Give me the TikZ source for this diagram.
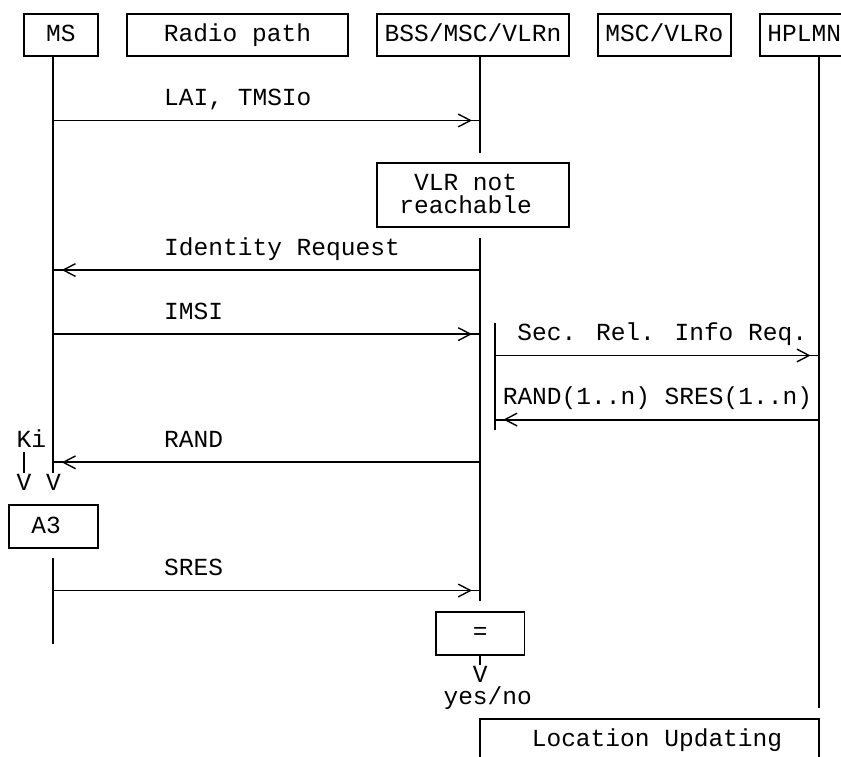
\documentclass[tikz,border=0pt]{standalone}
\usepackage{fontspec}
\newfontfamily\diafont{Liberation Mono}
\usetikzlibrary{arrows.meta}
\newcommand{\diasize}{\fontsize{14.23pt}{12.39pt}\selectfont}
\newcommand{\rowstrut}{\rule[-0.077cm]{0pt}{0.427cm}}

\tikzset{
  lane/.style={line width=1.1pt},
  txt/.style={inner sep=0pt, font=\diafont\diasize, text height=0.35cm, text depth=0.077cm},
  twoline/.style={inner sep=0pt, font=\diafont\diasize, align=center},
  box/.style={txt, draw, line width=1.1pt, minimum height=0.8708cm},
  msg/.style={lane, -{Straight Barb[length=0.25cm, width=0.26cm, sep=0pt, line width=0.8pt]Rectangle[length=0.17cm, width=0pt 1, line width=0pt, sep=0pt]}},
}

\begin{document}
\begin{tikzpicture}[x=0.3cm, y=-0.4354cm]
\clip (-1.63,-1.639) rectangle (55.5,33.75);

% header boxes
\node[box, minimum width=1.5cm] (ms) at (2.5,0) {MS};
\node[box, minimum width=4.5cm] (radio) at (14.5,0) {Radio path};
\node[box, minimum width=3.9cm] (bss) at (30.5,0) {BSS/MSC/VLRn};
\node[box, minimum width=2.7cm] (vlro) at (43.5,0) {MSC/VLRo};
\node[box, minimum width=1.8cm] (hplmn) at (53,0) {HPLMN};

% lifeline ends
\coordinate (ms0) at (2,1);
\coordinate (ms2) at (2,24.5);
\coordinate (ms3) at (2,28.5);
\coordinate (bss0) at (31,1);
\coordinate (bss1) at (31,5.5);
\coordinate (bss2) at (31,9.5);
\coordinate (bss3) at (31,26.5);
\coordinate (sec0) at (32,13.5);
\coordinate (sec1) at (32,18.5);
\coordinate (hpl0) at (54,1);
\coordinate (hpl1) at (54,31.5);

% message ends
\coordinate (msA) at (2,4);   \coordinate (bssA) at (31,4);
\coordinate (msB) at (2,11);  \coordinate (bssB) at (31,11);
\coordinate (msC) at (2,14);  \coordinate (bssC) at (31,14);
\coordinate (secD) at (32,15); \coordinate (hplD) at (54,15);
\coordinate (secE) at (32,18); \coordinate (hplE) at (54,18);
\coordinate (msF) at (2,20);  \coordinate (bssF) at (31,20);
\coordinate (msG) at (2,26);  \coordinate (bssG) at (31,26);

% inner boxes
\node[box, minimum width=3.9cm, minimum height=1.3062cm] (vlr) at (30.5,7.5) {};
\node[twoline] (vlrtext) at ([xshift=-0.15cm]vlr.center) {\rowstrut VLR not\\\rowstrut reachable};
\node[box, minimum width=1.8cm] (a3) at (2,23) {};
\node[txt] (a3text) at ([xshift=-0.15cm]a3.center) {A3};
\node[box, minimum width=1.8cm] (eq) at (31,28) {=};
\node[box, minimum width=6.9cm] (locupd) at (42.5,33) {};
\node[txt] (loctext) at ([xshift=0.15cm]locupd.center) {Location Updating};

% small texts
\node[txt] (ki) at (0.5,19) {Ki};
\node[txt] (kiv) at (0,21) {V};
\node[txt] (msv) at (2,21) {V};
\node[txt] (eqv) at (31,30) {V};
\node[txt] (yesno) at (31.5,31) {yes/no};

% lifelines
\draw[lane] (ms0) -- (msv.north);
\draw[lane] (ms2) -- (ms3);
\draw[lane] (ki.south -| kiv.north) -- (kiv.north);
\draw[lane] (bss0) -- (bss1);
\draw[lane] (bss2) -- (bss3);
\draw[lane] (eq.south) -- (eqv.north);
\draw[lane] (sec0) -- (sec1);
\draw[lane] (hpl0) -- (hpl1);

% messages
\draw[msg] (msA) -- (bssA);
\node[txt, anchor=west] (lai) at (9.5,3) {LAI, TMSIo};
\draw[msg] (bssB) -- (msB);
\node[txt, anchor=west] (idreq) at (9.5,10) {Identity Request};
\draw[msg] (msC) -- (bssC);
\node[txt, anchor=west] (imsi) at (9.5,13) {IMSI};
\draw[msg] (secD) -- (hplD);
\node[txt, anchor=west] (secreq) at (33.5,14) {Sec. Rel. Info Req.};
\draw[msg] (hplE) -- (secE);
\node[txt, anchor=west] (randsres) at (32.5,17) {RAND(1..n) SRES(1..n)};
\draw[msg] (bssF) -- (msF);
\node[txt, anchor=west] (rand) at (9.5,19) {RAND};
\draw[msg] (msG) -- (bssG);
\node[txt, anchor=west] (sres) at (9.5,25) {SRES};
\end{tikzpicture}
\end{document}
